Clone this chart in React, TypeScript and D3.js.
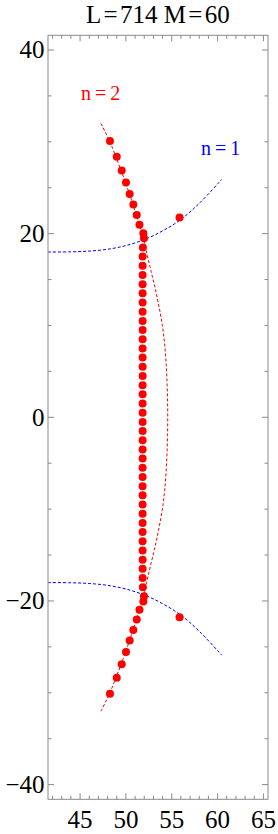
import React from "react";
import * as d3 from "d3";

// ---- data ----
const titleParts = ["L", "=", "714 M", "=", "60"];
const xMajorTicks = [45, 50, 55, 60, 65];
const yMajorTicks = [-40, -20, 0, 20, 40];
const yTickLabels = ["\u221240", "\u221220", "0", "20", "40"];

// n=2 red dots: upper diagonal branch
const upperBranchX = [48.26, 49.0, 49.54, 50.01, 50.41, 50.81, 51.18, 51.48, 51.9];
const upperBranchY = [30.1, 28.37, 26.88, 25.56, 24.32, 23.17, 22.02, 20.97, 20.05];
// lower diagonal branch
const lowerBranchX = [48.26, 49.0, 49.54, 50.01, 50.41, 50.81, 51.18, 51.48, 51.9];
const lowerBranchY = [-30.1, -28.37, -26.88, -25.56, -24.32, -23.17, -22.02, -20.97, -20.05];
// vertical column
const columnY = [
  19.5, 18.5, 17.5, 16.5, 15.5, 14.5, 13.5, 12.5, 11.5, 10.5, 9.5, 8.5, 7.5, 6.5, 5.5, 4.5, 3.5, 2.5, 1.5, 0.5,
  -0.5, -1.5, -2.5, -3.5, -4.5, -5.5, -6.5, -7.5, -8.5, -9.5, -10.5, -11.5, -12.5, -13.5, -14.5, -15.5, -16.5, -17.5, -18.5, -19.5,
];
const columnX = [
  51.97, 51.85, 51.82, 51.82, 51.82, 51.82, 51.82, 51.82, 51.82, 51.82, 51.82, 51.82, 51.82, 51.82, 51.82, 51.82, 51.82, 51.82, 51.82, 51.82,
  51.82, 51.82, 51.82, 51.82, 51.82, 51.82, 51.82, 51.82, 51.82, 51.82, 51.82, 51.82, 51.82, 51.82, 51.82, 51.82, 51.82, 51.82, 51.85, 51.97,
];
// isolated dots on the n=1 curves
const extraX = [55.85, 55.85];
const extraY = [21.77, -21.77];

// n=2 dashed red curve (x as a function of y)
const redCurveY = [32, 30, 28, 26, 24, 22, 20, 18, 16, 14, 12, 10, 8, 6, 4, 2, 0, -2, -4, -6, -8, -10, -12, -14, -16, -18, -20, -22, -24, -26, -28, -30, -32];
const redCurveX = [47.28, 48.25, 49.05, 49.8, 50.5, 51.15, 51.78, 52.25, 52.72, 53.2, 53.62, 53.98, 54.22, 54.38, 54.48, 54.54, 54.56, 54.54, 54.48, 54.38, 54.22, 53.98, 53.62, 53.2, 52.72, 52.25, 51.78, 51.15, 50.5, 49.8, 49.05, 48.25, 47.28];

// n=1 dashed blue curves
const blueUpperX = [41.5, 44, 46, 48, 50, 52, 54, 56, 58, 60.45];
const blueUpperY = [18.0, 18.02, 18.1, 18.3, 18.7, 19.35, 20.3, 21.55, 23.3, 25.9];
const blueLowerX = [41.5, 44, 46, 48, 50, 52, 54, 56, 58, 60.45];
const blueLowerY = [-18.0, -18.02, -18.1, -18.3, -18.7, -19.35, -20.3, -21.55, -23.3, -25.9];

const W = 278;
const H = 834;
const frame = { left: 48, right: 268, top: 35.3, bottom: 799.3 };
const FONT = "'Liberation Serif', 'Times New Roman', serif";
const RED = "#ff0000";
const BLUE = "#0000ff";
const FRAME_COLOR = "#8a8a8a";

export default function App() {
  const x = d3.scaleLinear().domain([41.5, 65.5]).range([frame.left, frame.right]);
  const y = d3.scaleLinear().domain([-41.6, 41.6]).range([frame.bottom, frame.top]);

  const xMinor = d3.range(42, 66, 1).filter((v) => !xMajorTicks.includes(v));
  const yMinor = d3.range(-40, 41, 5).filter((v) => !yMajorTicks.includes(v));

  const line = d3
    .line<[number, number]>()
    .x((d) => x(d[0]))
    .y((d) => y(d[1]))
    .curve(d3.curveCatmullRom.alpha(0.5));

  const redPts: [number, number][] = redCurveX.map((v, i) => [v, redCurveY[i]]);
  const bluePtsU: [number, number][] = blueUpperX.map((v, i) => [v, blueUpperY[i]]);
  const bluePtsL: [number, number][] = blueLowerX.map((v, i) => [v, blueLowerY[i]]);

  const dots: [number, number][] = [
    ...upperBranchX.map((v, i) => [v, upperBranchY[i]] as [number, number]),
    ...columnX.map((v, i) => [v, columnY[i]] as [number, number]),
    ...lowerBranchX.map((v, i) => [v, lowerBranchY[i]] as [number, number]),
    ...extraX.map((v, i) => [v, extraY[i]] as [number, number]),
  ];

  const majorLen = 6;
  const minorLen = 3.5;

  return (
    <svg
      width={W}
      height={H}
      style={{ position: "absolute", left: 0, top: 0, background: "#fff" }}
      xmlns="http://www.w3.org/2000/svg"
    >
      <defs>
        <clipPath id="plotClip">
          <rect x={frame.left} y={frame.top} width={frame.right - frame.left} height={frame.bottom - frame.top} />
        </clipPath>
      </defs>
      <rect x={0} y={0} width={W} height={H} fill="#fff" />

      {/* title */}
      <text x={86} y={23.3} fontFamily={FONT} fontSize={25} fill="#000">
        {titleParts.map((p, i) => (
          <tspan key={i} dx={i === 0 ? 0 : 2.3}>
            {p}
          </tspan>
        ))}
      </text>

      {/* curves */}
      <g clipPath="url(#plotClip)">
        <path d={line(bluePtsU) || ""} fill="none" stroke={BLUE} strokeWidth={1} strokeDasharray="3,2" />
        <path d={line(bluePtsL) || ""} fill="none" stroke={BLUE} strokeWidth={1} strokeDasharray="3,2" />
        <path d={line(redPts) || ""} fill="none" stroke={RED} strokeWidth={1} strokeDasharray="3,2" />
        {dots.map((d, i) => (
          <circle key={i} cx={x(d[0])} cy={y(d[1])} r={4} fill={RED} />
        ))}
      </g>

      {/* frame */}
      <rect
        x={frame.left}
        y={frame.top}
        width={frame.right - frame.left}
        height={frame.bottom - frame.top}
        fill="none"
        stroke={FRAME_COLOR}
        strokeWidth={1}
      />

      {/* ticks */}
      <g stroke={FRAME_COLOR} strokeWidth={1}>
        {xMajorTicks.map((v) => (
          <g key={"xm" + v}>
            <line x1={x(v)} x2={x(v)} y1={frame.bottom} y2={frame.bottom - majorLen} />
            <line x1={x(v)} x2={x(v)} y1={frame.top} y2={frame.top + majorLen} />
          </g>
        ))}
        {xMinor.map((v) => (
          <g key={"xn" + v}>
            <line x1={x(v)} x2={x(v)} y1={frame.bottom} y2={frame.bottom - minorLen} />
            <line x1={x(v)} x2={x(v)} y1={frame.top} y2={frame.top + minorLen} />
          </g>
        ))}
        {yMajorTicks.map((v) => (
          <g key={"ym" + v}>
            <line x1={frame.left} x2={frame.left + majorLen} y1={y(v)} y2={y(v)} />
            <line x1={frame.right} x2={frame.right - majorLen} y1={y(v)} y2={y(v)} />
          </g>
        ))}
        {yMinor.map((v) => (
          <g key={"yn" + v}>
            <line x1={frame.left} x2={frame.left + minorLen} y1={y(v)} y2={y(v)} />
            <line x1={frame.right} x2={frame.right - minorLen} y1={y(v)} y2={y(v)} />
          </g>
        ))}
      </g>

      {/* tick labels */}
      {xMajorTicks.map((v) => (
        <text key={"xl" + v} x={x(v)} y={828.3} textAnchor="middle" fontFamily={FONT} fontSize={25} fill="#000">
          {String(v)}
        </text>
      ))}
      {yMajorTicks.map((v, i) => (
        <text
          key={"yl" + v}
          x={44.5}
          y={y(v) + 8.3}
          textAnchor="end"
          fontFamily={FONT}
          fontSize={25}
          fill="#000"
        >
          {yTickLabels[i]}
        </text>
      ))}

      {/* curve labels */}
      <text x={81} y={99.5} fontFamily={FONT} fontSize={20} fill={RED}>
        n<tspan dx={4}>=</tspan>
        <tspan dx={4}>2</tspan>
      </text>
      <text x={201} y={155} fontFamily={FONT} fontSize={20} fill={BLUE}>
        n<tspan dx={4}>=</tspan>
        <tspan dx={4}>1</tspan>
      </text>
    </svg>
  );
}
